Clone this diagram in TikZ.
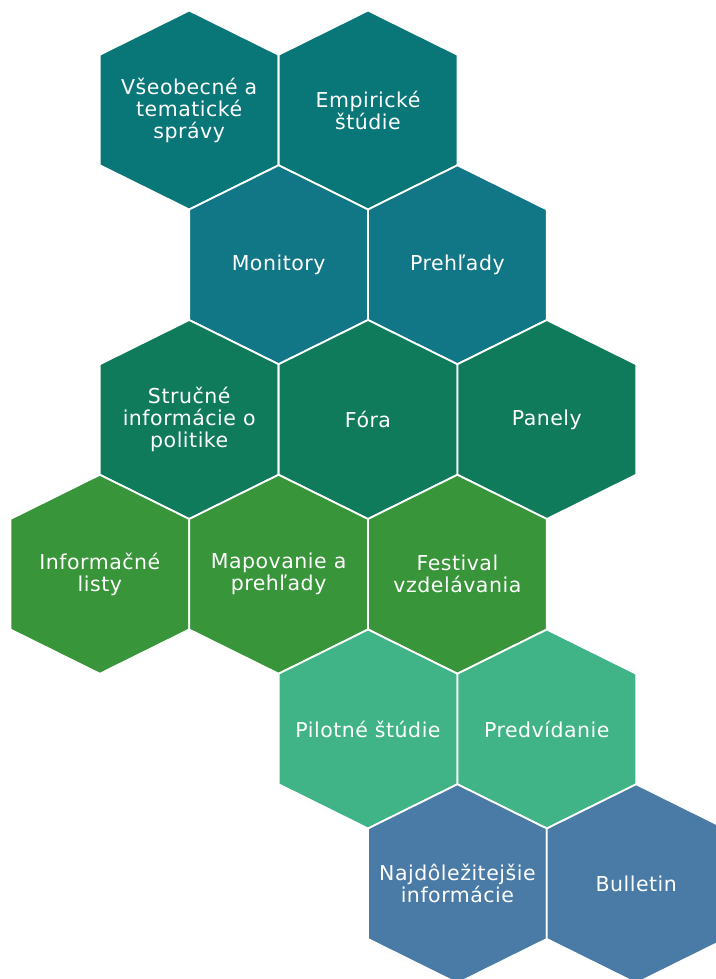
\documentclass[tikz,border=0pt]{standalone}
\usepackage{fontspec}
\setmainfont[LetterSpace=2.5]{DejaVu Sans}
\usepackage{tikz}
\usetikzlibrary{positioning}
\definecolor{cTeal}{RGB}{9,118,120}
\definecolor{cPetrol}{RGB}{17,118,133}
\definecolor{cPine}{RGB}{15,123,91}
\definecolor{cLeaf}{RGB}{56,149,58}
\definecolor{cMint}{RGB}{64,180,135}
\definecolor{cSteel}{RGB}{74,123,166}

\begin{document}
\begin{tikzpicture}[x=1pt, y=-1pt,
            cell/.style={draw=white, line width=1.8pt, line join=miter},
            lbl/.style={text=white, align=center, inner sep=0pt, font=\fontsize{20.5}{22}\selectfont}]
            \useasboundingbox (0,0) rectangle (715,979);
            \foreach \k/\r/\c/\n/\t in {
                2/0/cTeal/vseob/{Všeobecné a\\tematické\\správy},
                4/0/cTeal/empir/{Empirické\\štúdie},
                3/1/cPetrol/monit/{Monitory},
                5/1/cPetrol/prehl/{Prehľady},
                2/2/cPine/strucne/{Stručné\\informácie o\\politike},
                4/2/cPine/fora/{Fóra},
                6/2/cPine/panely/{Panely},
                1/3/cLeaf/inflist/{Informačné\\listy},
                3/3/cLeaf/mapov/{Mapovanie a\\prehľady},
                5/3/cLeaf/festiv/{Festival\\vzdelávania},
                4/4/cMint/pilot/{Pilotné štúdie},
                6/4/cMint/predv/{Predvídanie},
                5/5/cSteel/najdol/{Najdôležitejšie\\informácie},
                7/5/cSteel/bullet/{Bulletin}} {
                \pgfmathsetmacro\x{10.4+89.4*\k}
                \pgfmathsetmacro\y{110+154.75*\r}
                \filldraw[cell, fill=\c, shift={(\x,\y)}] (0,-99.5) -- (89.4,-55.25) -- (89.4,55.25)
                    -- (0,99.5) -- (-89.4,55.25) -- (-89.4,-55.25) -- cycle;
                \node[lbl] (\n) at (\x,\y) {\t};
            }
        \end{tikzpicture}
\end{document}
